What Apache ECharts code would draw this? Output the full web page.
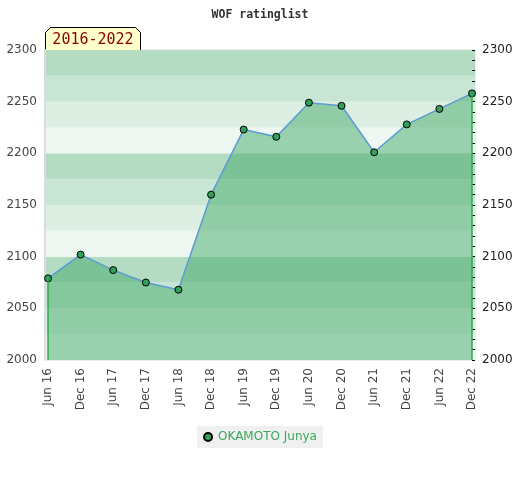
<!DOCTYPE html>
<html>
<head>
<meta charset="utf-8">
<script src="https://cdn.jsdelivr.net/npm/echarts@6/dist/echarts.min.js"></script>
<style>
  html, body { margin: 0; padding: 0; background: #fff; }
  #chart { width: 520px; height: 480px; }
</style>
</head>
<body>
<div id="chart"></div>
<script>
// data
var periods = ['Jun 16', 'Dec 16', 'Jun 17', 'Dec 17', 'Jun 18', 'Dec 18', 'Jun 19',
               'Dec 19', 'Jun 20', 'Dec 20', 'Jun 21', 'Dec 21', 'Jun 22', 'Dec 22'];
var ratings = [2079, 2102, 2087, 2075, 2068, 2160, 2223, 2216, 2249, 2246, 2201, 2228, 2243, 2258];
var playerName = 'OKAMOTO Junya';
var yMin = 2000, yMax = 2300;

var chart = echarts.init(document.getElementById('chart'));

var first = periods[0], last = periods[periods.length - 1];

var option = {
    animation: false,
    title: {
        text: 'WOF ratinglist',
        left: 'center',
        top: 4,
        textStyle: { fontFamily: 'DejaVu Sans Mono', fontWeight: 'bold', fontSize: 11.5, color: '#333' }
    },
    legend: {
        data: [playerName],
        left: 'center',
        top: 426,
        backgroundColor: '#f0f0f0',
        padding: [5, 6],
        itemWidth: 8,
        itemHeight: 8,
        icon: 'circle',
        textStyle: { color: '#3aa85a', fontSize: 12, fontFamily: 'DejaVu Sans', padding: [0, 0, 0, 1] }
    },
    // grid 0 paints the bands, grid 1 carries the line (a bit narrower)
    grid: [
        { left: 45, right: 45, top: 50, bottom: 120, show: true, borderColor: '#dcdcdc', borderWidth: 1, backgroundColor: 'transparent' },
        { left: 48, right: 48, top: 50, bottom: 120 }
    ],
    xAxis: [
        { gridIndex: 0, type: 'value', min: 0, max: 1, show: false },
        {
            gridIndex: 1, type: 'category', data: periods, boundaryGap: false,
            axisLine: { show: false }, axisTick: { show: false },
            axisLabel: { rotate: 90, color: '#444', fontSize: 12, fontFamily: 'DejaVu Sans', margin: 8 }
        }
    ],
    yAxis: [
        {
            gridIndex: 0, type: 'value', min: yMin, max: yMax, interval: 25,
            axisLine: { show: true, lineStyle: { color: '#dcdcdc', width: 2 } },
            axisTick: { show: false },
            splitLine: { show: false },
            splitArea: { show: true, areaStyle: { color: ['#eef7f1', '#dcefe2', '#c8e6d3', '#b3dcc3'] } },
            axisLabel: {
                color: '#444', fontSize: 12, fontFamily: 'DejaVu Sans', margin: 8,
                formatter: function (v) { return v % 50 === 0 ? String(v) : ''; }
            }
        },
        {
            gridIndex: 0, type: 'value', position: 'right', min: yMin, max: yMax, interval: 50,
            axisLine: { show: false },
            axisTick: { show: true, inside: true, length: 3, lineStyle: { color: '#000' } },
            minorTick: { show: true, splitNumber: 5, length: 3, lineStyle: { color: '#000' } },
            splitLine: { show: false },
            axisLabel: {
                color: '#222', fontSize: 12, fontFamily: 'DejaVu Sans', margin: 7,
                formatter: function (v) { return String(v); }
            }
        },
        { gridIndex: 1, type: 'value', min: yMin, max: yMax, show: false, splitLine: { show: false } }
    ],
    series: [{
        name: playerName,
        type: 'line',
        xAxisIndex: 1,
        yAxisIndex: 2,
        data: ratings,
        symbol: 'circle',
        symbolSize: 7,
        itemStyle: { color: '#33a05a', borderColor: '#000', borderWidth: 1 },
        lineStyle: { color: '#5b9bd5', width: 1.5 },
        areaStyle: { color: 'rgba(65,170,105,0.49)', opacity: 1, origin: 'start' },
        markLine: {
            silent: true,
            symbol: 'none',
            label: { show: false },
            lineStyle: { color: '#2eaa4e', type: 'solid', width: 1.5 },
            data: [
                [{ coord: [first, yMin] }, { coord: [first, ratings[0]] }],
                [{ coord: [last, yMin] }, { coord: [last, ratings[ratings.length - 1]] }]
            ]
        }
    }],
    graphic: [{
        type: 'group',
        left: 45,
        top: 27,
        children: [
            {
                type: 'polygon',
                shape: { points: [[0, 5], [5, 0], [90, 0], [95, 5], [95, 23], [0, 23]] },
                style: { fill: '#ffffcc', stroke: '#000', lineWidth: 1 }
            },
            {
                type: 'text',
                x: 47.5,
                y: 13,
                style: {
                    text: '2016-2022', fill: '#8b0000', fontSize: 15, fontFamily: 'DejaVu Sans Mono',
                    align: 'center', verticalAlign: 'middle'
                }
            }
        ]
    }]
};

chart.setOption(option);
</script>
</body>
</html>
